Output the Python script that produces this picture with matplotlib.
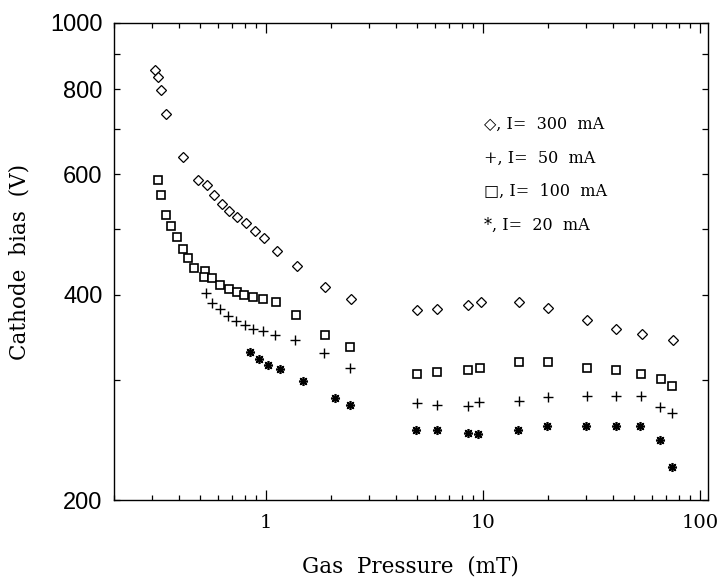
import matplotlib
matplotlib.use("Agg")
import matplotlib.pyplot as plt
from matplotlib.ticker import FixedLocator, FixedFormatter, NullFormatter

# I = 300 mA (diamonds)
x300 = [0.308, 0.318, 0.328, 0.348, 0.417, 0.488, 0.538, 0.578, 0.627, 0.677,
        0.740, 0.809, 0.890, 0.979, 1.124, 1.39, 1.876, 2.465,
        4.96, 6.18, 8.53, 9.79, 14.75, 20.06, 30.2, 41.3, 54.0, 75.1]
y300 = [853, 832, 797, 736, 636, 588, 579, 559, 544, 531,
        520, 509, 496, 484, 464, 441, 411, 394,
        380, 381, 386, 390, 390, 383, 368, 356, 350, 343]

# I = 100 mA (squares)
x100 = [0.318, 0.328, 0.348, 0.367, 0.389, 0.418, 0.437, 0.469, 0.527, 0.520,
        0.567, 0.618, 0.675, 0.735, 0.798, 0.876, 0.967, 1.116, 1.379, 1.876, 2.446,
        4.96, 6.13, 8.53, 9.71, 14.7, 20.06, 30.2, 41.3, 53.4, 66.3, 74.9]
y100 = [588, 559, 524, 505, 486, 466, 452, 438, 434, 425,
        423, 414, 408, 404, 399, 397, 394, 390, 373, 349, 335,
        306, 308.5, 310.6, 313, 318.8, 318.8, 313, 310, 306, 301.6, 293.7]

# I = 50 mA (plus)
x50 = [0.529, 0.567, 0.616, 0.668, 0.730, 0.800, 0.874, 0.969, 1.104, 1.36, 1.862, 2.446,
       4.96, 6.18, 8.53, 9.65, 14.7, 20.06, 30.2, 41.3, 53.4, 65.7, 74.9]
y50 = [403, 389, 381, 372, 366, 361, 356, 354, 349, 344, 329, 312,
       277.4, 276, 275, 278.5, 279.8, 283.3, 284.3, 284.3, 284.3, 273.9, 268.9]

# I = 20 mA (asterisk)
x20 = [0.847, 0.934, 1.028, 1.168, 1.49, 2.08, 2.446,
       4.92, 6.18, 8.53, 9.55, 14.5, 19.8, 29.9, 41.0, 53.2, 65.5, 74.5]
y20 = [330, 322, 316, 311, 299, 282, 276,
       254, 253.2, 251.3, 250.2, 253.2, 256.9, 257.4, 257.4, 257.4, 245.4, 223.7]

legend_lines = ["\u25c7, I=  300  mA", "+, I=  50  mA", "\u25a1, I=  100  mA", "*, I=  20  mA"]

serif = ["DejaVu Serif", "DejaVu Sans"]

fig = plt.figure(figsize=(7.23, 5.86), dpi=100)
ax = fig.add_axes([0.157, 0.146, 0.822, 0.815])

ax.plot(x300, y300, ls="none", marker="D", ms=4.8, mfc="white", mec="black", mew=0.9)
ax.plot(x100, y100, ls="none", marker="s", ms=5.8, mfc="white", mec="black", mew=1.2)
ax.plot(x50, y50, ls="none", marker="+", ms=6.5, mec="black", mew=1.0)
ax.plot(x20, y20, ls="none", marker=(8, 2, 0), ms=6.5, mec="black", mew=1.2)

ax.set_xscale("log")
ax.set_yscale("log")
ax.set_xlim(0.199, 109)
ax.set_ylim(200, 1000)

# y ticks every 100, labels on even hundreds
yt = [200, 300, 400, 500, 600, 700, 800, 900, 1000]
ylab = ["200", "", "400", "", "600", "", "800", "", "1000"]
ax.yaxis.set_major_locator(FixedLocator(yt))
ax.yaxis.set_major_formatter(FixedFormatter(ylab))
ax.yaxis.set_minor_locator(FixedLocator([]))
ax.yaxis.set_minor_formatter(NullFormatter())

ax.xaxis.set_major_locator(FixedLocator([1, 10, 100]))
ax.xaxis.set_major_formatter(FixedFormatter(["1", "10", "100"]))
ax.xaxis.set_minor_formatter(NullFormatter())

ax.tick_params(which="both", direction="in", top=True, right=True, width=0.9)
ax.tick_params(axis="x", which="major", length=7, pad=10)
ax.tick_params(axis="x", which="minor", length=3.5)
ax.tick_params(axis="y", which="major", length=4, pad=8)

for lab in ax.get_yticklabels():
    lab.set_family("Liberation Sans")
    lab.set_fontsize(17)
for lab in ax.get_xticklabels():
    lab.set_family(serif)
    lab.set_fontsize(14)

for sp in ax.spines.values():
    sp.set_linewidth(1.0)

ax.set_xlabel("Gas  Pressure  (mT)", family=serif, fontsize=15.5)
ax.set_ylabel("Cathode  bias  (V)", family=serif, fontsize=15.5)
ax.xaxis.set_label_coords(0.5, -0.115)
ax.yaxis.set_label_coords(-0.14, 0.5)

ys = [0.787, 0.730, 0.673, 0.616]
for s, yy in zip(legend_lines, ys):
    fig.text(0.669, yy, s, family=serif, fontsize=11.5, va="center", ha="left")

fig.savefig("out.png", dpi=100)
